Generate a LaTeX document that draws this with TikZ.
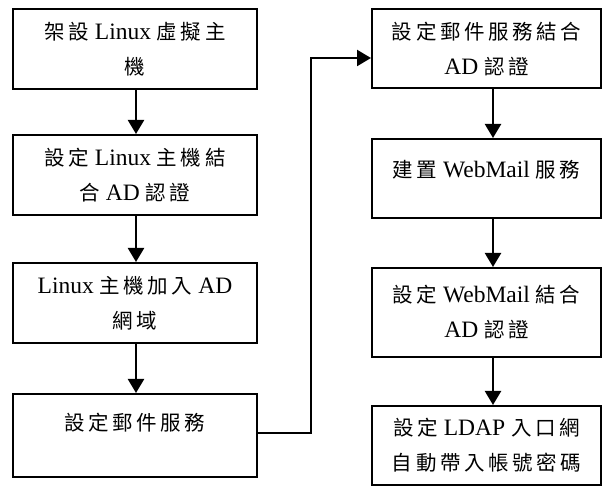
\documentclass[tikz,border=0pt]{standalone}
\usepackage{fontspec}
\setmainfont{Liberation Serif}
\newfontfamily\cjkf{Noto Sans CJK TC}[Scale=0.872,LetterSpace=17.5]
\newcommand\zh[1]{{\cjkf #1}}
\usetikzlibrary{arrows.meta}
\begin{document}
\begin{tikzpicture}[x=1pt,y=-1pt,
  box/.style={draw,line width=2pt,rectangle,inner sep=0pt,align=center,
    font=\fontsize{23.5}{35}\selectfont},
  lbox/.style={box,minimum width=244pt,minimum height=80pt},
  rbox/.style={box,minimum width=229pt,minimum height=79pt},
  arr/.style={line width=2.2pt,-{Triangle[length=14pt,width=16pt]}}]
\useasboundingbox (0,0) rectangle (603,486);
\fill[white] (0,0) rectangle (603,486);
\node[lbox] (b1) at (135,49) {\zh{架設} Linux \zh{虛擬主}\\\zh{機}};
\node[lbox] (b2) at (135,175) {\zh{設定} Linux \zh{主機結}\\\zh{合} AD \zh{認證}};
\node[lbox] (b3) at (135,303) {Linux \zh{主機加入} AD\\\zh{網域}};
\node[lbox,minimum height=83pt,text depth=28pt] (b4) at (135,435.5) {\zh{設定郵件服務}};
\node[rbox] (b5) at (486.5,49) {\zh{設定郵件服務結合}\\AD \zh{認證}};
\node[rbox,text depth=20pt] (b6) at (486.5,178.5) {\zh{建置} WebMail \zh{服務}};
\node[rbox,minimum height=89pt] (b7) at (486.5,312.5) {\zh{設定} WebMail \zh{結合}\\AD \zh{認證}};
\node[rbox] (b8) at (486.5,445.5) {\zh{設定} LDAP \zh{入口網}\\\zh{自動帶入帳號密碼}};
\draw[arr] ([xshift=1pt]b1.south) -- ([xshift=1pt]b2.north);
\draw[arr] ([xshift=1pt]b2.south) -- ([xshift=1pt]b3.north);
\draw[arr] ([xshift=1pt]b3.south) -- ([xshift=1pt]b4.north);
\draw[arr] ([xshift=6.5pt]b5.south) -- ([xshift=6.5pt]b6.north);
\draw[arr] ([xshift=6.5pt]b6.south) -- ([xshift=6.5pt]b7.north);
\draw[arr] ([xshift=6.5pt]b7.south) -- ([xshift=6.5pt]b8.north);
\coordinate (k1) at (311,433);
\coordinate (k2) at (311,58);
\draw[arr] ([yshift=2.5pt]b4.east) -- (k1) -- (k2) -- ([yshift=-9pt]b5.west);
\end{tikzpicture}
\end{document}
